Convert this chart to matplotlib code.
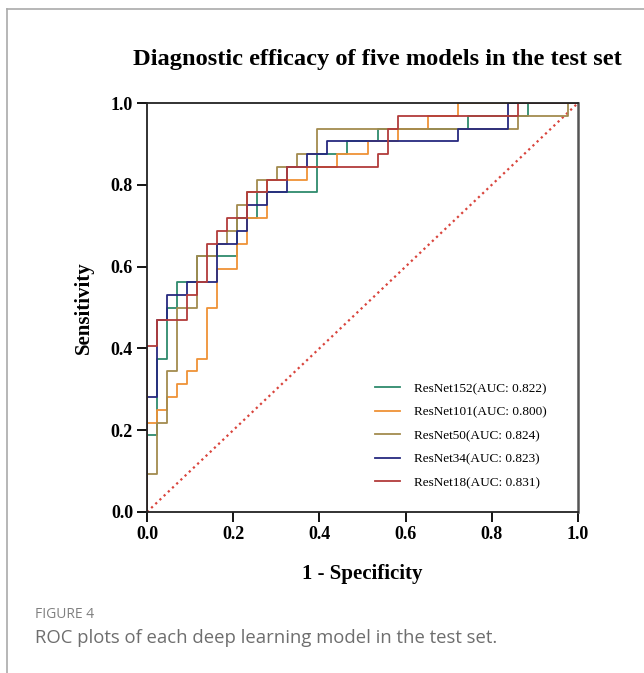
import matplotlib.pyplot as plt
import numpy as np

# ROC staircase corners, in units of one step
# (one step = 1/43 on the x axis, 1/32 on the y axis)
N_NEG = 43
N_POS = 32

models = ['ResNet152', 'ResNet101', 'ResNet50', 'ResNet34', 'ResNet18']
aucs = ['0.822', '0.800', '0.824', '0.823', '0.831']
colors = ['#2e8a6c', '#ef9236', '#a38b4e', '#26297f', '#b23c3a']

resnet152_fp = [0, 0, 1, 1, 2, 2, 3, 3, 5, 5, 9, 9, 11, 11, 17, 17, 20, 20, 23, 23, 32, 32, 38, 38, 43]
resnet152_tp = [0, 6, 6, 12, 12, 16, 16, 18, 18, 20, 20, 23, 23, 25, 25, 28, 28, 29, 29, 30, 30, 31, 31, 32, 32]

resnet101_fp = [0, 0, 1, 1, 2, 2, 3, 3, 4, 4, 5, 5, 6, 6, 7, 7, 9, 9, 10, 10, 12, 12, 16, 16, 19, 19, 22, 22, 25, 25, 28, 28, 31, 31, 43]
resnet101_tp = [0, 7, 7, 8, 8, 9, 9, 10, 10, 11, 11, 12, 12, 16, 16, 19, 19, 21, 21, 23, 23, 26, 26, 27, 27, 28, 28, 29, 29, 30, 30, 31, 31, 32, 32]

resnet50_fp = [0, 0, 1, 1, 2, 2, 3, 3, 5, 5, 7, 7, 8, 8, 9, 9, 10, 10, 11, 11, 13, 13, 15, 15, 17, 17, 37, 37, 42, 42, 43]
resnet50_tp = [0, 3, 3, 7, 7, 11, 11, 16, 16, 20, 20, 21, 21, 22, 22, 24, 24, 25, 25, 26, 26, 27, 27, 28, 28, 30, 30, 31, 31, 32, 32]

resnet34_fp = [0, 0, 1, 1, 2, 2, 4, 4, 7, 7, 9, 9, 10, 10, 12, 12, 14, 14, 16, 16, 18, 18, 31, 31, 36, 36, 43]
resnet34_tp = [0, 9, 9, 15, 15, 17, 17, 18, 18, 21, 21, 22, 22, 24, 24, 25, 25, 27, 27, 28, 28, 29, 29, 30, 30, 32, 32]

resnet18_fp = [0, 0, 1, 1, 4, 4, 5, 5, 6, 6, 7, 7, 8, 8, 10, 10, 12, 12, 14, 14, 23, 23, 24, 24, 25, 25, 37, 37, 43]
resnet18_tp = [0, 13, 13, 15, 15, 17, 17, 18, 18, 21, 21, 22, 22, 23, 23, 25, 25, 26, 26, 27, 27, 28, 28, 30, 30, 31, 31, 32, 32]

curves = [(resnet152_fp, resnet152_tp), (resnet101_fp, resnet101_tp),
          (resnet50_fp, resnet50_tp), (resnet34_fp, resnet34_tp),
          (resnet18_fp, resnet18_tp)]

ticks = [0.0, 0.2, 0.4, 0.6, 0.8, 1.0]
tick_labels = ['0.0', '0.2', '0.4', '0.6', '0.8', '1.0']

serif = ['Liberation Serif', 'DejaVu Serif']

fig = plt.figure(figsize=(6.44, 6.73), dpi=100)
ax = fig.add_axes([147 / 644, 161 / 673, 431 / 644, 409 / 673])

# chance line
ax.plot([0, 1], [0, 1], color='#d9443c', linestyle=(0, (1, 1.6)), linewidth=1.6, zorder=1)

for (fp, tp), name, auc, c in zip(curves, models, aucs, colors):
    x = np.array(fp) / N_NEG
    y = np.array(tp) / N_POS
    ax.plot(x, y, color=c, linewidth=1.3, label=f'{name}(AUC: {auc})', zorder=2)

ax.set_xlim(0, 1)
ax.set_ylim(0, 1)
ax.set_xticks(ticks)
ax.set_yticks(ticks)
ax.set_xticklabels(tick_labels, fontfamily=serif, fontweight='bold', fontsize=13)
ax.set_yticklabels(tick_labels, fontfamily=serif, fontweight='bold', fontsize=13)
ax.tick_params(direction='out', length=7, width=1.3, pad=3)
for s in ax.spines.values():
    s.set_linewidth(1.3)
    s.set_color('#222222')
ax.spines['right'].set_color('#555555')
ax.spines['right'].set_linewidth(1.8)

ax.set_xlabel('1 - Specificity', fontfamily=serif, fontweight='bold', fontsize=15, labelpad=15)
ax.set_ylabel('Sensitivity', fontfamily=serif, fontweight='bold', fontsize=15, labelpad=12)
fig.text(377 / 644, 1 - 60 / 673, 'Diagnostic efficacy of five models in the test set',
         fontfamily=serif, fontweight='bold', fontsize=17.6, ha='center', va='center')

leg = ax.legend(loc='upper left', bbox_to_anchor=(0.502, 0.345), frameon=False,
                prop={'family': serif, 'size': 9.5}, handlelength=1.9,
                handletextpad=1.0, labelspacing=0.85)

# page frame and caption
fig.add_artist(plt.Line2D([7 / 644, 1], [1 - 9 / 673, 1 - 9 / 673], color='#aaaaaa', linewidth=1.2))
fig.add_artist(plt.Line2D([7 / 644, 7 / 644], [0, 1 - 9 / 673], color='#aaaaaa', linewidth=1.2))
fig.text(35 / 644, 1 - 615 / 673, 'FIGURE 4', fontfamily='Open Sans', fontsize=10,
         color='#808080', va='center')
fig.text(35 / 644, 1 - 638 / 673, 'ROC plots of each deep learning model in the test set.',
         fontfamily='Open Sans', fontsize=13.3, color='#6e6e6e', va='center')

fig.savefig('out.png', dpi=100)
